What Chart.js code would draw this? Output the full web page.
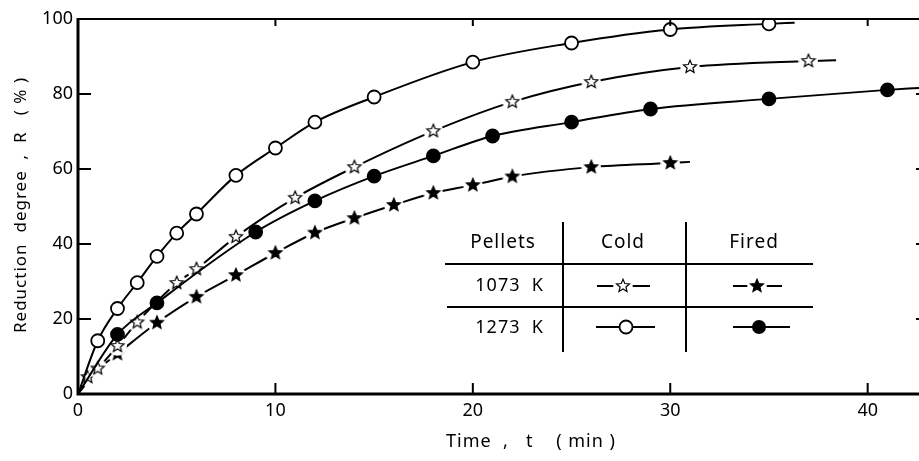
<!DOCTYPE html>
<html>
<head>
<meta charset="utf-8">
<script src="https://cdn.jsdelivr.net/npm/chart.js@4"></script>
<style>
  html, body { margin: 0; padding: 0; background: #fff; }
  #wrap { width: 919px; height: 461px; }
</style>
</head>
<body>
<div id="wrap"><canvas id="chart" width="919" height="461"></canvas></div>
<script>
const FONT = '"Noto Sans", sans-serif';

// time t (min) / reduction degree R (%).
// first and last entries are where each drawn curve starts / stops (no marker there)
const coldT1273 = [0, 1, 2, 3, 4, 5, 6, 8, 10, 12, 15, 20, 25, 30, 35, 36.3];
const coldR1273 = [0, 14.2, 22.8, 29.7, 36.7, 42.9, 48, 58.3, 65.6, 72.5, 79.2, 88.5, 93.6, 97.2, 98.7, 99];

const coldT1073 = [0, 0.5, 1, 2, 3, 5, 6, 8, 11, 14, 18, 22, 26, 31, 37, 38.4];
const coldR1073 = [0, 4.5, 6.8, 12.8, 19.1, 29.6, 33.3, 41.9, 52.3, 60.5, 70.1, 77.9, 83.2, 87.2, 88.8, 89];

const firedT1273 = [0, 2, 4, 9, 12, 15, 18, 21, 25, 29, 35, 41, 42.6];
const firedR1273 = [0, 15.9, 24.3, 43.2, 51.5, 58.1, 63.5, 68.8, 72.5, 76, 78.7, 81.1, 81.6];

const firedT1073 = [0, 1, 2, 4, 6, 8, 10, 12, 14, 16, 18, 20, 22, 26, 30, 31];
const firedR1073 = [0, 6.4, 10.7, 19, 25.9, 31.7, 37.6, 43, 46.9, 50.4, 53.6, 55.7, 58, 60.5, 61.6, 61.9];

const xTicks = [0, 10, 20, 30, 40];
const yTicks = [0, 20, 40, 60, 80, 100];

const tableHead = ['Pellets', 'Cold', 'Fired'];
const tableRows = ['1073  K', '1273  K'];

function pts(ts, rs) {
    return ts.map((t, i) => ({ x: t, y: rs[i] }));
}

// five pointed star marker with a small white halo so the line breaks around it
function starMarker(filled, r) {
    const pad = 3;
    const c = document.createElement('canvas');
    const s = Math.ceil(2 * (r + pad));
    c.width = c.height = s;
    const g = c.getContext('2d');
    const m = s / 2;
    g.fillStyle = '#fff';
    g.beginPath();
    g.arc(m, m, r + pad, 0, 2 * Math.PI);
    g.fill();
    g.beginPath();
    for (let i = 0; i < 10; i++) {
        const rr = i % 2 ? r * 0.45 : r;
        const a = -Math.PI / 2 + i * Math.PI / 5;
        g.lineTo(m + rr * Math.cos(a), m + rr * Math.sin(a));
    }
    g.closePath();
    g.fillStyle = filled ? '#000' : '#fff';
    g.fill();
    g.lineWidth = 1.2;
    g.strokeStyle = '#000';
    g.stroke();
    return c;
}

const openStar = starMarker(false, 6.8);
const fullStar = starMarker(true, 6.8);

// hide the marker on the curve end points
function endless(r) {
    return ctx => {
        const n = ctx.dataset.data.length;
        return (ctx.dataIndex === 0 || ctx.dataIndex === n - 1) ? 0 : r;
    };
}

function series(label, data, style, fill) {
    return {
        label: label,
        data: data,
        borderColor: '#000',
        borderWidth: 2,
        cubicInterpolationMode: 'monotone',
        pointStyle: style,
        pointRadius: endless(6.5),
        pointBackgroundColor: fill,
        pointBorderColor: '#000',
        pointBorderWidth: 1.8
    };
}

const frame = {
    id: 'frame',
    afterDraw(chart) {
        const ctx = chart.ctx;
        const xs = chart.scales.x, ys = chart.scales.y;
        const a = chart.chartArea;
        ctx.save();
        ctx.strokeStyle = '#000';
        ctx.lineCap = 'butt';

        // axes
        ctx.lineWidth = 3;
        ctx.beginPath();
        ctx.moveTo(a.left, a.top - 1);
        ctx.lineTo(a.left, a.bottom);
        ctx.lineTo(a.right, a.bottom);
        ctx.stroke();
        ctx.lineWidth = 2;
        ctx.beginPath();
        ctx.moveTo(a.left, a.top);
        ctx.lineTo(a.right, a.top);
        ctx.stroke();

        // inward tick marks
        ctx.lineWidth = 2;
        xTicks.slice(1).forEach(v => {
            const px = xs.getPixelForValue(v);
            ctx.beginPath();
            ctx.moveTo(px, a.bottom);
            ctx.lineTo(px, a.bottom - 11);
            ctx.moveTo(px, a.top);
            ctx.lineTo(px, a.top + 7);
            ctx.stroke();
        });
        yTicks.slice(1, -1).forEach(v => {
            const py = ys.getPixelForValue(v);
            ctx.beginPath();
            ctx.moveTo(a.left, py);
            ctx.lineTo(a.left + 13, py);
            ctx.moveTo(a.right, py);
            ctx.lineTo(a.right - 3, py);
            ctx.stroke();
        });

        // axis titles
        ctx.fillStyle = '#000';
        ctx.textAlign = 'center';
        ctx.textBaseline = 'middle';
        ctx.font = '18px ' + FONT;
        ctx.letterSpacing = '1px';
        ctx.fillText('Time  ,   t    ( min )', 531, 442);
        ctx.save();
        ctx.translate(21, 205);
        ctx.rotate(-Math.PI / 2);
        ctx.font = '17px ' + FONT;
        ctx.fillText('Reduction  degree  ,  R   ( % )', 0, 0);
        ctx.restore();

        // legend table
        ctx.lineWidth = 2;
        ctx.beginPath();
        ctx.moveTo(563, 222); ctx.lineTo(563, 352);
        ctx.moveTo(686, 222); ctx.lineTo(686, 352);
        ctx.moveTo(445, 264); ctx.lineTo(813, 264);
        ctx.moveTo(447, 307); ctx.lineTo(813, 307);
        ctx.stroke();

        ctx.font = '19px ' + FONT;
        ctx.fillText(tableHead[0], 503, 243);
        ctx.fillText(tableHead[1], 623, 243);
        ctx.fillText(tableHead[2], 754, 243);
        ctx.textAlign = 'right';
        ctx.font = '18px ' + FONT;
        ctx.fillText(tableRows[0], 544, 286);
        ctx.fillText(tableRows[1], 544, 328);

        function key(x1, x2, y) {
            ctx.lineWidth = 2;
            ctx.beginPath();
            ctx.moveTo(x1, y); ctx.lineTo(x2, y);
            ctx.stroke();
        }
        key(597, 650, 286);
        ctx.drawImage(openStar, 623 - openStar.width / 2, 286 - openStar.height / 2);
        key(733, 782, 286);
        ctx.drawImage(fullStar, 757 - fullStar.width / 2, 286 - fullStar.height / 2);
        key(596, 655, 327);
        key(733, 790, 327);
        ctx.lineWidth = 1.8;
        ctx.beginPath();
        ctx.arc(626, 327, 6.5, 0, 2 * Math.PI);
        ctx.fillStyle = '#fff';
        ctx.fill();
        ctx.stroke();
        ctx.beginPath();
        ctx.arc(759, 327, 7, 0, 2 * Math.PI);
        ctx.fillStyle = '#000';
        ctx.fill();
        ctx.restore();
    }
};

new Chart(document.getElementById('chart'), {
    type: 'line',
    data: {
        datasets: [
            series('1273 K Cold', pts(coldT1273, coldR1273), 'circle', '#fff'),
            series('1273 K Fired', pts(firedT1273, firedR1273), 'circle', '#000'),
            series('1073 K Cold', pts(coldT1073, coldR1073), openStar, '#fff'),
            series('1073 K Fired', pts(firedT1073, firedR1073), fullStar, '#000')
        ]
    },
    options: {
        responsive: false,
        animation: false,
        devicePixelRatio: 1,
        layout: { padding: { top: 19, right: 0, left: 0, bottom: 0 } },
        plugins: {
            legend: { display: false },
            tooltip: { enabled: false }
        },
        scales: {
            x: {
                type: 'linear',
                min: 0,
                max: 42.6,
                afterBuildTicks: s => { s.ticks = xTicks.map(v => ({ value: v })); },
                afterFit: s => { s.height = 67; },
                grid: { display: false, drawTicks: false },
                border: { display: false },
                ticks: { color: '#000', padding: 6, font: { family: FONT, size: 18 } }
            },
            y: {
                min: 0,
                max: 100,
                afterBuildTicks: s => { s.ticks = yTicks.map(v => ({ value: v })); },
                afterFit: s => { s.width = 78; },
                grid: { display: false, drawTicks: false },
                border: { display: false },
                ticks: { color: '#000', padding: 5, font: { family: FONT, size: 18 } }
            }
        }
    },
    plugins: [frame]
});
</script>
</body>
</html>
